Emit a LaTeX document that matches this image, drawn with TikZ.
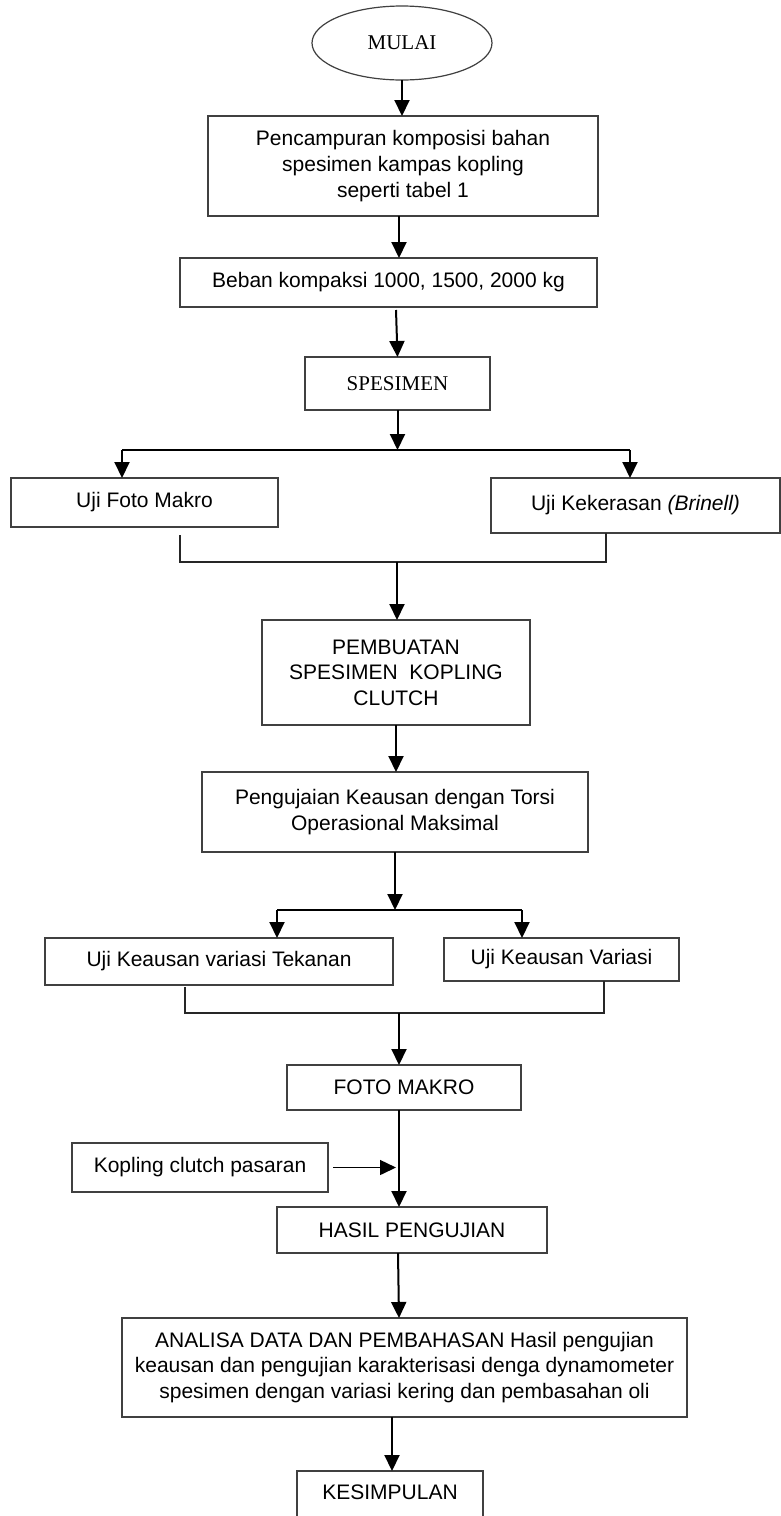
\documentclass[tikz,border=0pt]{standalone}
\usepackage{fontspec}
\setmainfont{Liberation Sans}
\newfontfamily\serifft{Liberation Serif}
\usetikzlibrary{arrows.meta,shapes.geometric}
\begin{document}
\begin{tikzpicture}[x=0.5pt,y=-0.5pt,
  box/.style={draw=black!75, line width=0.6pt, inner sep=0pt, outer sep=0pt, align=center,
    font=\fontsize{10.5pt}{12.8pt}\selectfont},
  arr/.style={line width=1pt, -{Triangle[width=7.5pt,length=8pt]}},
  sarr/.style={line width=0.75pt, -{Triangle[width=7.5pt,length=8pt]}},
  conn/.style={line width=1pt},
  thinl/.style={line width=0.55pt, black!85}]
\useasboundingbox (0,0) rectangle (781,1516);
\fill[white] (0,0) rectangle (781,1516);
\clip (0,0) rectangle (781,1516);

% nodes
\node[box, ellipse, minimum width=90pt, minimum height=37pt, font=\serifft\fontsize{10.5pt}{12.5pt}\selectfont] (mulai) at (402,43) {MULAI};
\node[box, minimum width=195pt, minimum height=50pt] (b1) at (403,166)
  {Pencampuran komposisi bahan\\spesimen kampas kopling\\seperti tabel 1};
\node[box, minimum width=208.5pt, minimum height=24.5pt] (b2) at (388.5,282.5)
  {Beban kompaksi 1000, 1500, 2000 kg};
\node[box, minimum width=92.5pt, minimum height=26.5pt, font=\serifft\fontsize{10.5pt}{12.5pt}\selectfont] (sp) at (397.5,383.5) {SPESIMEN};
\node[box, minimum width=133.5pt, minimum height=24.5pt] (ufm) at (144.5,502.5) {Uji Foto Makro};
\node[box, minimum width=144.5pt, minimum height=27.5pt] (ukk) at (635.5,505.5) {Uji Kekerasan \textit{(Brinell)}};
\node[box, minimum width=134pt, minimum height=52.5pt] (pb) at (396,672.5)
  {PEMBUATAN\\SPESIMEN\ \ KOPLING\\CLUTCH};
\node[box, minimum width=193pt, minimum height=40pt] (pk) at (395,812)
  {Pengujaian Keausan dengan Torsi\\Operasional Maksimal};
\node[box, minimum width=174pt, minimum height=23.5pt] (uk1) at (219,961.5) {Uji Keausan variasi Tekanan};
\node[box, minimum width=117.5pt, minimum height=21.5pt] (uk2) at (561.5,959.5) {Uji Keausan Variasi};
\node[box, minimum width=117pt, minimum height=22.5pt] (fm) at (404,1087.5) {FOTO MAKRO};
\node[box, minimum width=128pt, minimum height=24.5pt] (kp) at (200,1167.5) {Kopling clutch pasaran};
\node[box, minimum width=135pt, minimum height=23pt] (hp) at (412,1230) {HASIL PENGUJIAN};
\node[box, minimum width=282.5pt, minimum height=49.5pt] (an) at (404.5,1367.5)
  {ANALISA DATA DAN PEMBAHASAN Hasil pengujian\\keausan dan pengujian karakterisasi denga dynamometer\\spesimen dengan variasi kering dan pembasahan oli};
\node[box, anchor=north, minimum width=93pt, text height=14.25pt, text depth=20.25pt] (ks) at (390,1471) {KESIMPULAN};

% coordinates
\coordinate (j1) at (397,450);
\coordinate (j1l) at (122,450);
\coordinate (j1r) at (630,450);
\coordinate (m1l) at (180,535);
\coordinate (m1) at (397,562);
\coordinate (m1r) at (606,533);
\coordinate (j2) at (396,910);
\coordinate (j2l) at (277,910);
\coordinate (j2r) at (522,910);
\coordinate (m2l) at (185,987);
\coordinate (m2) at (399,1013);
\coordinate (m2r) at (604,981);

% connectors
\draw[arr] (mulai.south) -- (mulai.south |- b1.north);
\draw[arr] ([xshift=-2pt]b1.south) -- ([xshift=-2pt]b1.south |- b2.north);
\draw[arr] ([xshift=3.75pt,yshift=-1.5pt]b2.south) -- (sp.north);
\draw[arr] (sp.south) -- (sp.south |- j1);
\draw[conn] (j1l) -- (j1r);
\draw[arr] (j1l) -- (j1l |- ufm.north);
\draw[arr] (j1r) -- (j1r |- ukk.north);
\draw[thinl] (m1l) |- (m1) -| (m1r);
\draw[arr] (m1) -- (m1 |- pb.north);
\draw[arr] (pb.south) -- (pb.south |- pk.north);
\draw[arr] (pk.south) -- (pk.south |- j2);
\draw[conn] (j2l) -- (j2r);
\draw[arr] (j2l) -- (j2l |- uk1.north);
\draw[arr] (j2r) -- (j2r |- uk2.north);
\draw[thinl] (m2l) |- (m2) -| (m2r);
\draw[arr] (m2) -- (m2 |- fm.north);
\draw[arr] (m2 |- fm.south) -- (m2 |- hp.north);
\draw[sarr] ([xshift=2.5pt]kp.east) -- ([xshift=-1.5pt]kp.east -| m2);
\draw[arr] ([xshift=-7pt]hp.south) -- ([xshift=-2.75pt]an.north);
\draw[arr] ([xshift=-6.25pt]an.south) -- ([xshift=-6.25pt]an.south |- ks.north);
\end{tikzpicture}
\end{document}
